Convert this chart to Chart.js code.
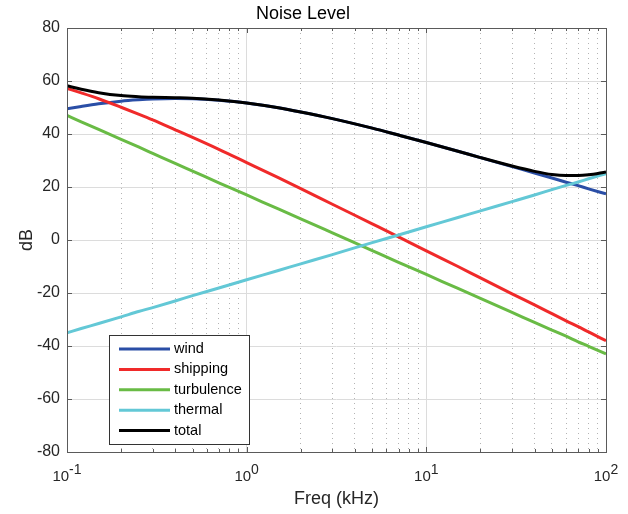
<!DOCTYPE html>
<html>
<head>
<meta charset="utf-8">
<script src="https://cdn.jsdelivr.net/npm/chart.js@4"></script>
<style>
  body { margin: 0; background: #fff; }
  #wrap { width: 628px; height: 514px; }
</style>
</head>
<body>
<div id="wrap"><canvas id="myChart"></canvas></div>
<script>
// values (dB) at these frequencies (kHz)
var freq       = [0.1, 0.12, 0.15, 0.2, 0.25, 0.3, 0.4, 0.5, 0.7, 1, 1.5, 2, 3, 5, 7, 10, 15, 20, 30, 40, 50, 60, 70, 80, 100];
var wind       = [49.5, 50.4, 51.4, 52.4, 52.9, 53.2, 53.4, 53.3, 52.7, 51.7, 49.9, 48.3, 45.8, 42.2, 39.6, 36.8, 33.5, 31.1, 27.7, 25.3, 23.4, 21.8, 20.5, 19.3, 17.4];
var shipping   = [57.2, 55.5, 53.3, 50.1, 47.5, 45.3, 41.6, 38.7, 34.2, 29.2, 23.5, 19.4, 13.5, 6.1, 1.2, -4.1, -10.0, -14.3, -20.3, -24.5, -27.8, -30.5, -32.7, -34.7, -38.0];
var turbulence = [47, 44.6, 41.7, 38.0, 35.1, 32.7, 28.9, 26.0, 21.6, 17, 11.7, 8.0, 2.7, -4.0, -8.4, -13, -18.3, -22.0, -27.3, -31.1, -34.0, -36.3, -38.4, -40.1, -43];
var thermal    = [-35, -33.4, -31.5, -29.0, -27.0, -25.5, -23.0, -21.0, -18.1, -15, -11.5, -9.0, -5.5, -1.0, 1.9, 5, 8.5, 11.0, 14.5, 17.0, 19.0, 20.6, 21.9, 23.1, 25];
var total      = [58.2, 56.9, 55.6, 54.5, 54.1, 53.9, 53.7, 53.5, 52.8, 51.7, 49.9, 48.3, 45.8, 42.2, 39.6, 36.8, 33.5, 31.1, 27.9, 25.9, 24.7, 24.3, 24.3, 24.6, 25.7];

var seriesNames = ["wind", "shipping", "turbulence", "thermal", "total"];
var seriesData = [wind, shipping, turbulence, thermal, total];
var lineColors = ["#2a4ea6", "#f02a2a", "#69bb45", "#63c8d6", "#000000"];

var xDecades = [0.1, 1, 10, 100];
var xTickLabels = ["10^-1", "10^0", "10^1", "10^2"];
var xMinor = [0.2, 0.3, 0.4, 0.5, 0.6, 0.7, 0.8, 0.9, 2, 3, 4, 5, 6, 7, 8, 9, 20, 30, 40, 50, 60, 70, 80, 90];
var yTicks = [-80, -60, -40, -20, 0, 20, 40, 60, 80];

var FONT = '"Liberation Sans", Arial, sans-serif';

function toPoints(ys) {
  return freq.map(function (f, i) { return { x: f, y: ys[i] }; });
}

var datasets = seriesNames.map(function (name, i) {
  return {
    label: name,
    data: toPoints(seriesData[i]),
    borderColor: lineColors[i],
    backgroundColor: lineColors[i],
    borderWidth: 3,
    pointRadius: 0,
    cubicInterpolationMode: 'monotone',
    order: seriesNames.length - i
  };
});

// box round the plot with inward ticks, like the original
var axesBox = {
  id: 'axesBox',
  afterDatasetsDraw: function (chart) {
    var ctx = chart.ctx, a = chart.chartArea;
    var xs = chart.scales.x, ys = chart.scales.y;
    ctx.save();
    ctx.strokeStyle = '#5a5a5a';
    ctx.lineWidth = 1;
    ctx.beginPath();
    function seg(x1, y1, x2, y2) { ctx.moveTo(x1, y1); ctx.lineTo(x2, y2); }
    xDecades.forEach(function (v) {
      var px = Math.round(xs.getPixelForValue(v)) + 0.5;
      seg(px, a.bottom, px, a.bottom - 5);
      seg(px, a.top, px, a.top + 5);
    });
    xMinor.forEach(function (v) {
      var px = Math.round(xs.getPixelForValue(v)) + 0.5;
      seg(px, a.bottom, px, a.bottom - 3);
      seg(px, a.top, px, a.top + 3);
    });
    yTicks.forEach(function (v) {
      var py = Math.round(ys.getPixelForValue(v)) + 0.5;
      seg(a.left, py, a.left + 5, py);
      seg(a.right, py, a.right - 5, py);
    });
    ctx.stroke();
    ctx.strokeRect(Math.round(a.left) + 0.5, Math.round(a.top) + 0.5,
                   Math.round(a.right) - Math.round(a.left), Math.round(a.bottom) - Math.round(a.top));
    ctx.restore();
  }
};

// 10^n labels with raised exponent
var expLabels = {
  id: 'expLabels',
  afterDraw: function (chart) {
    var ctx = chart.ctx, xs = chart.scales.x, a = chart.chartArea;
    var baseFont = '15px ' + FONT, expFont = '14px ' + FONT;
    ctx.save();
    ctx.fillStyle = '#262626';
    ctx.textBaseline = 'alphabetic';
    ctx.textAlign = 'left';
    xDecades.forEach(function (v, i) {
      var parts = xTickLabels[i].split('^');
      ctx.font = baseFont;
      var wb = ctx.measureText(parts[0]).width;
      ctx.font = expFont;
      var we = ctx.measureText(parts[1]).width;
      var x0 = xs.getPixelForValue(v) - (wb + we) / 2;
      ctx.font = baseFont;
      ctx.fillText(parts[0], x0, a.bottom + 29);
      ctx.font = expFont;
      ctx.fillText(parts[1], x0 + wb, a.bottom + 21.5);
    });
    ctx.restore();
  }
};

// legend box inside the plot, lower left
var boxLegend = {
  id: 'boxLegend',
  afterDraw: function (chart) {
    var ctx = chart.ctx, a = chart.chartArea;
    var left = Math.round(a.left) + 42, top = Math.round(a.top) + 307, w = 140, h = 109;
    ctx.save();
    ctx.fillStyle = '#fff';
    ctx.fillRect(left, top, w, h);
    ctx.strokeStyle = '#333';
    ctx.lineWidth = 1;
    ctx.strokeRect(left + 0.5, top + 0.5, w, h);
    ctx.font = '14.5px ' + FONT;
    ctx.textBaseline = 'middle';
    ctx.textAlign = 'left';
    chart.data.datasets.forEach(function (ds, i) {
      var y = top + 14 + i * 20.4;
      ctx.strokeStyle = ds.borderColor;
      ctx.lineWidth = 3;
      ctx.beginPath();
      ctx.moveTo(left + 10, y);
      ctx.lineTo(left + 61, y);
      ctx.stroke();
      ctx.fillStyle = '#000';
      ctx.fillText(ds.label, left + 65, y);
    });
    ctx.restore();
  }
};

new Chart("myChart", {
  type: "line",
  data: { datasets: datasets },
  plugins: [axesBox, expLabels, boxLegend],
  options: {
    responsive: true,
    maintainAspectRatio: false,
    animation: false,
    layout: { padding: { left: 0, right: 22, top: 0, bottom: 0 } },
    plugins: {
      legend: { display: false },
      tooltip: { enabled: false },
      title: {
        display: true,
        text: "Noise Level",
        color: "#000",
        font: { family: FONT, size: 18, weight: "normal" },
        padding: { top: 3, bottom: 3.4 }
      }
    },
    scales: {
      x: {
        type: "logarithmic",
        min: 0.1,
        max: 100,
        afterBuildTicks: function (scale) {
          scale.ticks = xDecades.map(function (v) { return { value: v }; });
        },
        afterFit: function (scale) { scale.height = 62; },
        ticks: { display: false },
        grid: { color: "#dcdcdc", lineWidth: 1, drawTicks: false },
        border: { display: false },
        title: {
          display: true,
          text: "Freq (kHz)",
          color: "#262626",
          font: { family: FONT, size: 18, weight: "normal" },
          padding: { top: 0, bottom: 4 }
        }
      },
      xMinor: {
        type: "logarithmic",
        position: "bottom",
        min: 0.1,
        max: 100,
        afterBuildTicks: function (scale) {
          scale.ticks = xMinor.map(function (v) { return { value: v }; });
        },
        afterFit: function (scale) { scale.height = 0; },
        ticks: { display: false },
        grid: { color: "#b4b4b4", lineWidth: 1, drawTicks: false },
        border: { display: false, dash: [1, 4] }
      },
      y: {
        min: -80,
        max: 80,
        afterBuildTicks: function (scale) {
          scale.ticks = yTicks.map(function (v) { return { value: v }; });
        },
        afterFit: function (scale) { scale.width = 67; },
        ticks: {
          color: "#262626",
          padding: 7,
          font: { family: FONT, size: 16 }
        },
        grid: { color: "#dcdcdc", lineWidth: 1, drawTicks: false },
        border: { display: false },
        title: {
          display: true,
          text: "dB",
          color: "#262626",
          font: { family: FONT, size: 18, weight: "normal" },
          padding: { top: 16, bottom: 0 }
        }
      }
    }
  }
});
</script>
</body>
</html>
